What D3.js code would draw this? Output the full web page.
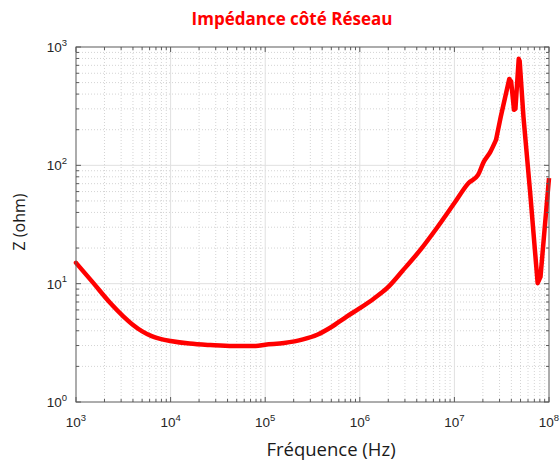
<!DOCTYPE html>
<html>
<head>
<meta charset="utf-8">
<script src="https://cdn.jsdelivr.net/npm/d3@7"></script>
<style>
  html, body { margin: 0; padding: 0; background: #ffffff; }
  svg { display: block; }
</style>
</head>
<body>
<svg id="chart" width="560" height="461"></svg>
<script>
// Network-side impedance magnitude vs frequency (log-log)
// smooth low/mid-frequency part
const freqExpLow = [3.00, 3.18, 3.36, 3.50, 3.60, 3.70, 3.80, 3.90, 4.00, 4.20, 4.42, 4.66,
                    4.90, 5.00, 5.20, 5.40, 5.55, 5.70, 5.85, 6.00, 6.15, 6.29, 6.45, 6.64,
                    6.82, 7.00, 7.15, 7.25, 7.31, 7.38, 7.44];
const impedanceLow = [15.0, 10.2, 6.9, 5.3, 4.5, 3.95, 3.6, 3.4, 3.28, 3.12, 3.03, 2.97,
                      2.98, 3.05, 3.15, 3.38, 3.7, 4.3, 5.2, 6.2, 7.5, 9.2, 12.8, 19.3,
                      30, 48, 71, 83, 107, 130, 164];
// resonance region, sharp corners
const freqExpHigh = [7.44, 7.49, 7.58, 7.60, 7.63, 7.645, 7.68, 7.69, 7.73, 7.80, 7.88, 7.91, 8.00];
const impedanceHigh = [164, 257, 537, 510, 295, 300, 794, 760, 257, 60, 10.1, 11.4, 78];

const xTickExp = [3, 4, 5, 6, 7, 8];
const yTickExp = [0, 1, 2, 3];

const title = "Impédance côté Réseau";
const xTitle = "Fréquence (Hz)";
const yTitle = "Z (ohm)";

const W = 560, H = 461;
const m = { left: 76, right: 11, top: 47, bottom: 59 };
const iw = W - m.left - m.right, ih = H - m.top - m.bottom;

const svg = d3.select("#chart");

const x = d3.scaleLog().domain([1e3, 1e8]).range([0, iw]);
const y = d3.scaleLog().domain([1, 1e3]).range([ih, 0]);

const g = svg.append("g").attr("transform", `translate(${m.left},${m.top})`);
g.append("rect").attr("width", iw).attr("height", ih).attr("fill", "#ffffff");

// minor values per decade
function minors(lo, hi) {
  const out = [];
  for (let e = lo; e < hi; e++) for (let k = 2; k <= 9; k++) out.push(k * Math.pow(10, e));
  return out;
}
const xMinor = minors(3, 8), yMinor = minors(0, 3);
const xMajor = xTickExp.map(e => Math.pow(10, e));
const yMajor = yTickExp.map(e => Math.pow(10, e));

// minor grid (dotted)
g.append("g").selectAll("line").data(xMinor).join("line")
  .attr("x1", d => x(d)).attr("x2", d => x(d)).attr("y1", 0).attr("y2", ih)
  .attr("stroke", "#d4d4d4").attr("stroke-width", 1).attr("stroke-dasharray", "1,2");
g.append("g").selectAll("line").data(yMinor).join("line")
  .attr("y1", d => y(d)).attr("y2", d => y(d)).attr("x1", 0).attr("x2", iw)
  .attr("stroke", "#d4d4d4").attr("stroke-width", 1).attr("stroke-dasharray", "1,2");

// major grid (solid)
g.append("g").selectAll("line").data(xMajor.slice(1, -1)).join("line")
  .attr("x1", d => x(d)).attr("x2", d => x(d)).attr("y1", 0).attr("y2", ih)
  .attr("stroke", "#e0e0e0").attr("stroke-width", 1);
g.append("g").selectAll("line").data(yMajor.slice(1, -1)).join("line")
  .attr("y1", d => y(d)).attr("y2", d => y(d)).attr("x1", 0).attr("x2", iw)
  .attr("stroke", "#e0e0e0").attr("stroke-width", 1);

// curve: smooth part + piecewise-linear resonance part
const ptsLow = freqExpLow.map((e, i) => [Math.pow(10, e), impedanceLow[i]]);
const ptsHigh = freqExpHigh.map((e, i) => [Math.pow(10, e), impedanceHigh[i]]);
const smooth = d3.line().x(d => x(d[0])).y(d => y(d[1])).curve(d3.curveMonotoneX);
const sharp = d3.line().x(d => x(d[0])).y(d => y(d[1])).curve(d3.curveLinear);
const curveG = g.append("g")
  .attr("fill", "none").attr("stroke", "#ff0000").attr("stroke-width", 4.5)
  .attr("stroke-linejoin", "round");
curveG.append("path").datum(ptsLow).attr("d", smooth).attr("stroke-linecap", "round");
curveG.append("path").datum(ptsHigh).attr("d", sharp).attr("stroke-linecap", "butt");

// ticks on all four sides, pointing inward
const axisCol = "#5a5a5a";
const ticksG = g.append("g").attr("stroke", axisCol).attr("stroke-width", 1);
function vTicks(vals, len) {
  vals.forEach(v => {
    ticksG.append("line").attr("x1", x(v)).attr("x2", x(v)).attr("y1", ih).attr("y2", ih - len);
    ticksG.append("line").attr("x1", x(v)).attr("x2", x(v)).attr("y1", 0).attr("y2", len);
  });
}
function hTicks(vals, len) {
  vals.forEach(v => {
    ticksG.append("line").attr("y1", y(v)).attr("y2", y(v)).attr("x1", 0).attr("x2", len);
    ticksG.append("line").attr("y1", y(v)).attr("y2", y(v)).attr("x1", iw).attr("x2", iw - len);
  });
}
vTicks(xMinor, 3); vTicks(xMajor, 5);
hTicks(yMinor, 3); hTicks(yMajor, 5);

// frame
g.append("rect").attr("width", iw).attr("height", ih)
  .attr("fill", "none").attr("stroke", axisCol).attr("stroke-width", 1);

// tick labels: 10 with superscript exponent
const tickFont = "'Liberation Sans', Arial, sans-serif";
function powLabel(sel, e) {
  sel.append("tspan").text("10");
  sel.append("tspan").attr("dy", -6.5).attr("font-size", 9.5).text(e);
}
xTickExp.forEach(e => {
  const t = g.append("text")
    .attr("x", x(Math.pow(10, e))).attr("y", ih + 25)
    .attr("text-anchor", "middle").attr("font-family", tickFont)
    .attr("font-size", 13.5).attr("fill", "#262626");
  powLabel(t, e);
});
yTickExp.forEach(e => {
  const t = g.append("text")
    .attr("x", -9).attr("y", y(Math.pow(10, e)) + 5)
    .attr("text-anchor", "end").attr("font-family", tickFont)
    .attr("font-size", 13.5).attr("fill", "#262626");
  powLabel(t, e);
});

// titles
const labelFont = "'Open Sans', 'Noto Sans', sans-serif";
svg.append("text")
  .attr("x", 292).attr("y", 25)
  .attr("text-anchor", "middle").attr("font-family", labelFont)
  .attr("font-weight", "bold").attr("font-size", 17).attr("fill", "#ff0000")
  .text(title);

svg.append("text")
  .attr("x", 331).attr("y", 456)
  .attr("text-anchor", "middle").attr("font-family", labelFont)
  .attr("font-size", 18.5).attr("fill", "#1a1a1a")
  .text(xTitle);

svg.append("text")
  .attr("transform", "translate(25,222) rotate(-90)")
  .attr("text-anchor", "middle").attr("font-family", labelFont)
  .attr("font-size", 16).attr("fill", "#1a1a1a")
  .text(yTitle);
</script>
</body>
</html>
